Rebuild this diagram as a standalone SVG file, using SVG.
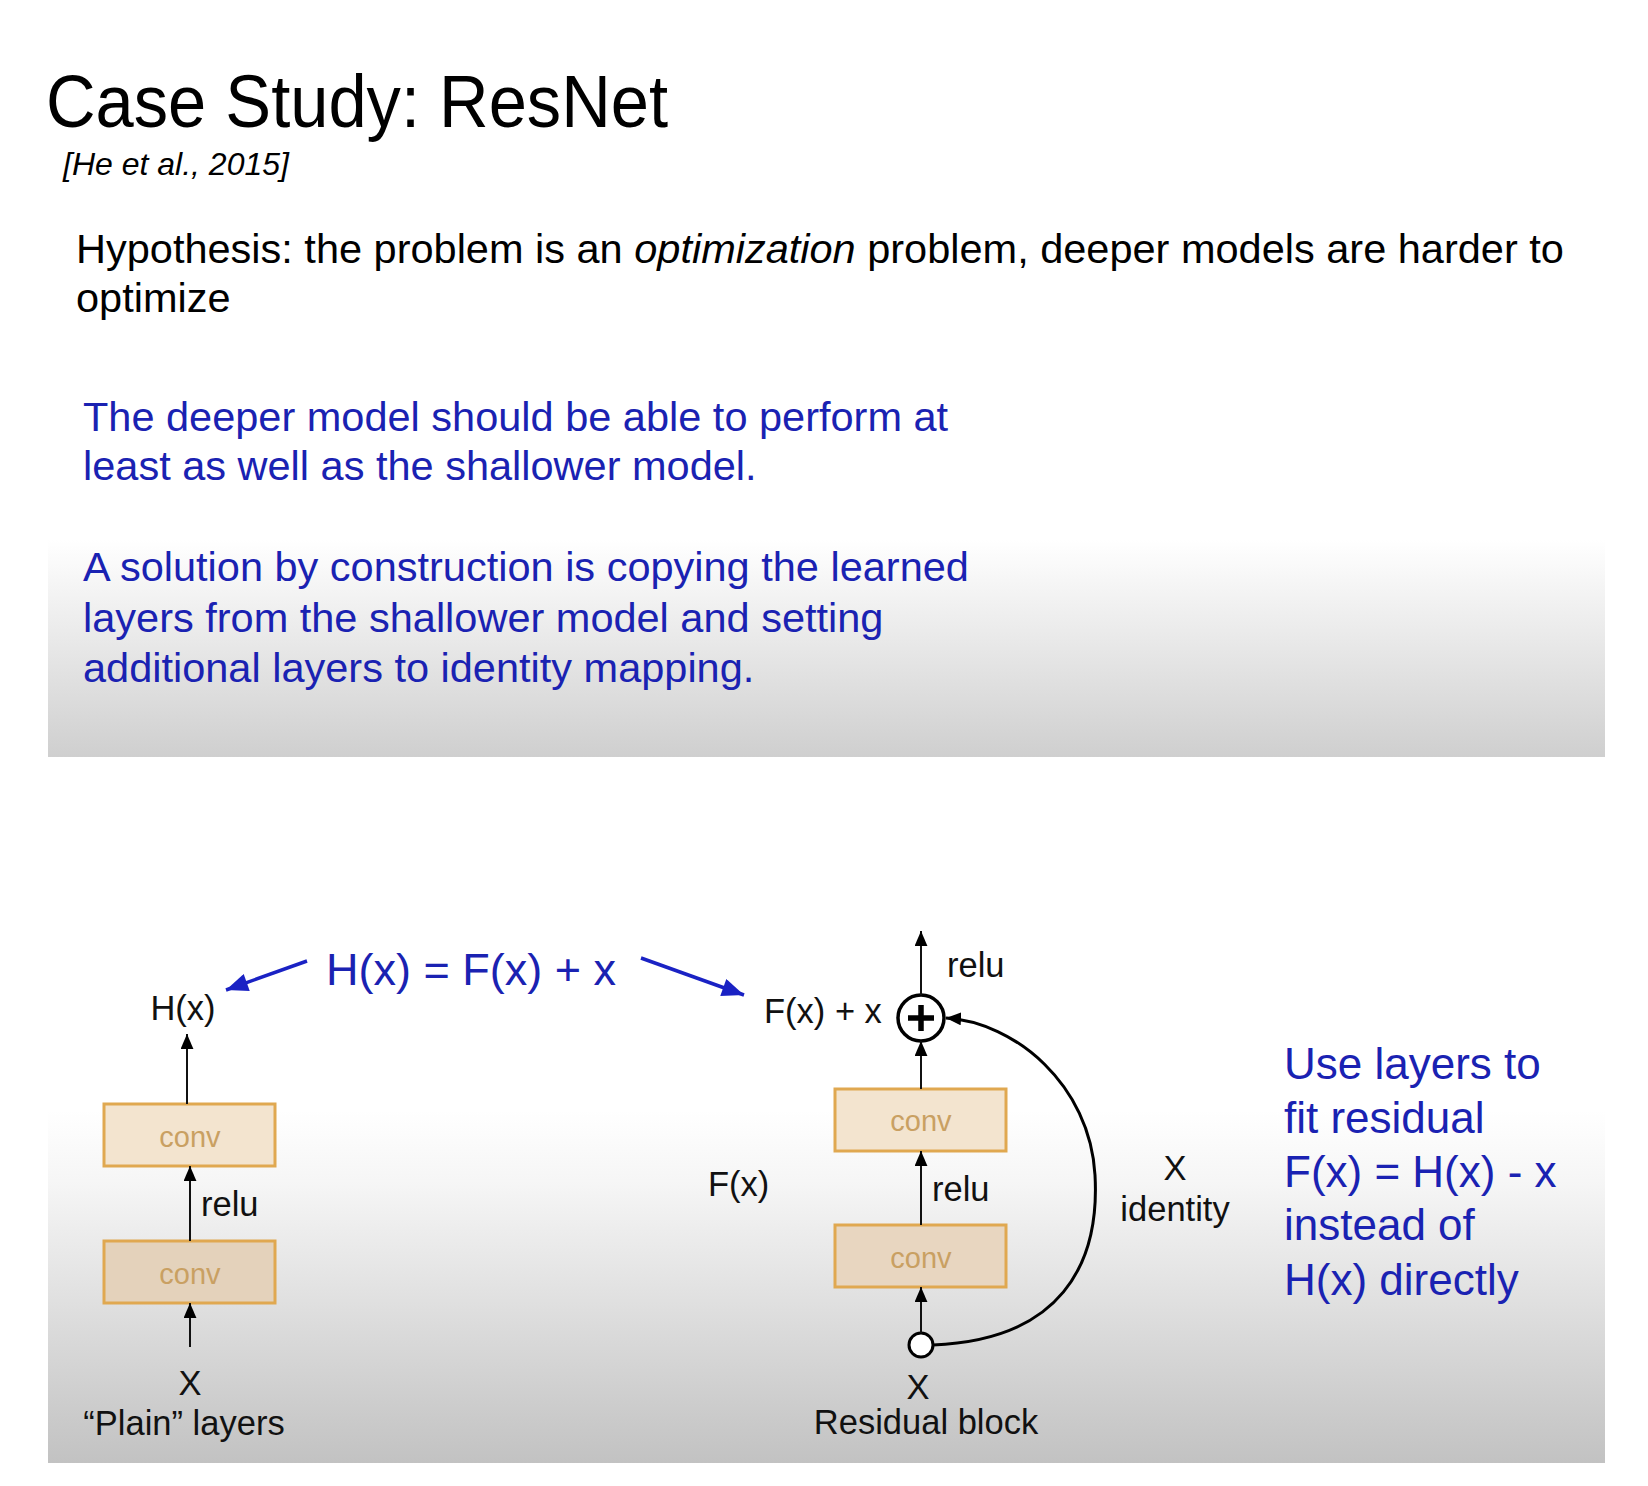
<svg xmlns="http://www.w3.org/2000/svg" width="1648" height="1486" viewBox="0 0 1648 1486">
<defs>
<linearGradient id="band1" x1="0" y1="0" x2="0" y2="1">
<stop offset="0" stop-color="#ffffff"/>
<stop offset="0.25" stop-color="#f3f3f3"/>
<stop offset="1" stop-color="#cfcfcf"/>
</linearGradient>
<linearGradient id="band2" x1="0" y1="0" x2="0" y2="1">
<stop offset="0" stop-color="#ffffff"/>
<stop offset="0.2" stop-color="#f6f6f6"/>
<stop offset="1" stop-color="#c2c2c2"/>
</linearGradient>
<marker id="ah" viewBox="0 0 14 12" refX="14" refY="6" markerWidth="15" markerHeight="13" markerUnits="userSpaceOnUse" orient="auto">
<path d="M0,0 L14,6 L0,12 z" fill="#000"/>
</marker>
<marker id="ahb" viewBox="0 0 22 18" refX="22" refY="9" markerWidth="24" markerHeight="18" markerUnits="userSpaceOnUse" orient="auto">
<path d="M0,0 L22,9 L0,18 z" fill="#1a22c4"/>
</marker>
<style>
.t{font-family:"Liberation Sans",Arial,sans-serif;fill:#000}
.b{font-family:"Liberation Sans",Arial,sans-serif;fill:#1a22b2}
.lab{font-family:"Liberation Sans",Arial,sans-serif;font-size:34.5px;fill:#111}
.convbox{stroke:#e0a850;stroke-width:3}
.convt{font-family:"Liberation Sans",Arial,sans-serif;font-size:29px;fill:#c9a062;text-anchor:middle}
.ln{stroke:#111;stroke-width:2;fill:none}
</style>
</defs>
<rect x="0" y="0" width="1648" height="1486" fill="#ffffff"/>
<rect x="48" y="540" width="1557" height="217" fill="url(#band1)"/>
<rect x="48" y="1110" width="1557" height="353" fill="url(#band2)"/>

<g id="title">
<text class="t" x="46" y="127" font-size="74" textLength="622" lengthAdjust="spacingAndGlyphs">Case Study: ResNet</text>
<text class="t" x="63" y="175" font-size="32" font-style="italic">[He et al., 2015]</text>
</g>
<g id="hypothesis">
<text class="t" x="76" y="263" font-size="41.5">Hypothesis: the problem is an <tspan font-style="italic">optimization</tspan> problem, deeper models are harder to</text>
<text class="t" x="76" y="312" font-size="41.5">optimize</text>
</g>
<g id="blue-text">
<text class="b" x="83" y="431" font-size="41.5">The deeper model should be able to perform at</text>
<text class="b" x="83" y="480" font-size="41.5">least as well as the shallower model.</text>
<text class="b" x="83" y="581" font-size="41.5">A solution by construction is copying the learned</text>
<text class="b" x="83" y="632" font-size="41.5">layers from the shallower model and setting</text>
<text class="b" x="83" y="682" font-size="41.5">additional layers to identity mapping.</text>
</g>

<g id="formula">
<text class="b" x="326" y="985" font-size="45">H(x) = F(x) + x</text>
</g>

<g id="plain">
<text class="lab" x="183" y="1020" text-anchor="middle">H(x)</text>
<g id="plain-conv1">
<rect class="convbox" x="104" y="1104" width="171" height="62" fill="#f3e4cf"/>
<text class="convt" x="190" y="1147">conv</text>
</g>
<text class="lab" x="201" y="1216">relu</text>
<g id="plain-conv2">
<rect class="convbox" x="104" y="1241" width="171" height="62" fill="#e4d2bb"/>
<text class="convt" x="190" y="1284">conv</text>
</g>
<text class="lab" x="190" y="1395" text-anchor="middle" font-size="36">X</text>
<text class="lab" x="184" y="1435" text-anchor="middle">“Plain” layers</text>
</g>

<g id="residual">
<text class="lab" x="947" y="977">relu</text>
<text class="lab" x="764" y="1023">F(x) + x</text>
<g id="plus">
<circle cx="921" cy="1018" r="23" fill="#fff" stroke="#000" stroke-width="3.5"/>
<path d="M908,1018 H934 M921,1005 V1031" stroke="#000" stroke-width="5.5"/>
</g>
<g id="res-conv1">
<rect class="convbox" x="835" y="1089" width="171" height="62" fill="#f3e4cf"/>
<text class="convt" x="921" y="1131">conv</text>
</g>
<text class="lab" x="932" y="1201">relu</text>
<g id="res-conv2">
<rect class="convbox" x="835" y="1225" width="171" height="62" fill="#e8d6c0"/>
<text class="convt" x="921" y="1268">conv</text>
</g>
<circle id="split" cx="921" cy="1345" r="12" fill="#fff" stroke="#000" stroke-width="3"/>
<text class="lab" x="708" y="1196">F(x)</text>
<text class="lab" x="1175" y="1180" text-anchor="middle" font-size="36">X</text>
<text class="lab" x="1175" y="1221" text-anchor="middle">identity</text>
<text class="lab" x="918" y="1399" text-anchor="middle" font-size="36">X</text>
<text class="lab" x="926" y="1434" text-anchor="middle">Residual block</text>
</g>

<g id="right-text">
<text class="b" x="1284" y="1079" font-size="44">Use layers to</text>
<text class="b" x="1284" y="1133" font-size="44">fit residual</text>
<text class="b" x="1284" y="1187" font-size="44">F(x) = H(x) - x</text>
<text class="b" x="1284" y="1240" font-size="44">instead of</text>
<text class="b" x="1284" y="1295" font-size="44">H(x) directly</text>
</g>

<g id="connectors">
<line class="ln" x1="187" y1="1104" x2="187" y2="1034" marker-end="url(#ah)"/>
<line class="ln" x1="190" y1="1241" x2="190" y2="1166" marker-end="url(#ah)"/>
<line class="ln" x1="190" y1="1347" x2="190" y2="1303" marker-end="url(#ah)"/>
<line x1="307" y1="961" x2="226" y2="990" stroke="#1a22c4" stroke-width="3.5" marker-end="url(#ahb)"/>
<line x1="641" y1="958" x2="744" y2="995" stroke="#1a22c4" stroke-width="3.5" marker-end="url(#ahb)"/>
<line class="ln" x1="921" y1="995" x2="921" y2="931" marker-end="url(#ah)"/>
<line class="ln" x1="921" y1="1089" x2="921" y2="1041" marker-end="url(#ah)"/>
<line class="ln" x1="921" y1="1225" x2="921" y2="1151" marker-end="url(#ah)"/>
<line class="ln" x1="921" y1="1333" x2="921" y2="1287" marker-end="url(#ah)"/>
<path d="M933,1345 C1060,1340 1100,1265 1095,1175 C1090,1085 1015,1022 946,1018" fill="none" stroke="#000" stroke-width="3" marker-end="url(#ah)"/>
</g>
</svg>
